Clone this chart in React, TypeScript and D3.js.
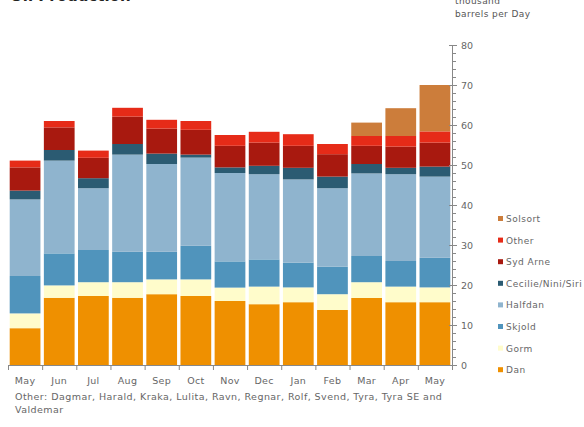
import React from 'react';
import * as d3 from 'd3';

const months = ['May', 'Jun', 'Jul', 'Aug', 'Sep', 'Oct', 'Nov', 'Dec', 'Jan', 'Feb', 'Mar', 'Apr', 'May'];
const fields = ['Dan', 'Gorm', 'Skjold', 'Halfdan', 'Cecilie/Nini/Siri', 'Syd Arne', 'Other', 'Solsort'];

const dan = [9.2, 16.8, 17.25, 16.8, 17.7, 17.25, 16, 15.2, 15.7, 13.75, 16.75, 15.7, 15.7];
const gorm = [3.7, 3.1, 3.45, 3.9, 3.7, 4.15, 3.35, 4.4, 3.7, 3.95, 3.95, 3.9, 3.7];
const skjold = [9.35, 8.0, 8.05, 7.6, 6.9, 8.4, 6.55, 6.8, 6.2, 6.9, 6.55, 6.4, 7.4];
const halfdan = [19.15, 23.2, 15.45, 24.3, 21.95, 22.05, 22.1, 21.3, 20.8, 19.6, 20.65, 21.7, 20.3];
const cecilie = [2.2, 2.65, 2.5, 2.65, 2.6, 0.75, 1.4, 2.1, 2.9, 2.9, 2.35, 1.6, 2.5];
const sydArne = [5.8, 5.65, 5.1, 6.85, 6.25, 6.2, 5.4, 5.8, 5.5, 5.6, 4.55, 5.3, 6.0];
const other = [1.7, 1.6, 1.8, 2.2, 2.2, 2.2, 2.7, 2.7, 2.9, 2.55, 2.45, 2.65, 2.8];
const solsort = [0, 0, 0, 0, 0, 0, 0, 0, 0, 0, 3.35, 6.95, 11.6];

const colors = ['#ef9000', '#fffccb', '#5094bc', '#8fb4ce', '#2b5b72', '#a8190f', '#e62b18', '#cc7d3b'];
const yTicks = [0, 10, 20, 30, 40, 50, 60, 70, 80];

const W = 584;
const H = 427;
const font = '"DejaVu Sans", Verdana, sans-serif';

export default function App() {
  const series = [dan, gorm, skjold, halfdan, cecilie, sydArne, other, solsort];
  const rows = months.map((_, i) => {
    const r: Record<string, number> = { idx: i };
    fields.forEach((f, k) => (r[f] = series[k][i]));
    return r;
  });
  const stacked = d3.stack<Record<string, number>>().keys(fields)(rows);

  const x = d3.scaleBand<number>()
    .domain(months.map((_, i) => i))
    .range([8, 452])
    .paddingInner(0.1)
    .paddingOuter(0.05);
  const y = d3.scaleLinear().domain([0, 80]).range([365, 45]);

  const step = x.step();
  const edge = (i: number) => (x(i) || 0) - step * 0.05;
  const minor = d3.range(0, 81, 2).filter(v => v % 10 !== 0);

  return (
    <svg width={W} height={H} style={{ position: 'absolute', left: 0, top: 0, background: '#fff' }} fontFamily={font}>
      <text x={10} y={1} fontSize={15} fontWeight="bold" fill="#222">Oil Production</text>
      <text x={455} y={4} fontSize={9} fill="#555" letterSpacing={0.4}>thousand</text>
      <text x={455} y={17} fontSize={9} fill="#555" letterSpacing={0.4}>barrels per Day</text>

      {stacked.map((s, k) => (
        <g key={fields[k]} fill={colors[k]}>
          {s.map((d, i) => (
            d[1] - d[0] > 0 ? (
              <rect key={i} x={x(i)} width={x.bandwidth()} y={y(d[1])} height={y(d[0]) - y(d[1])} />
            ) : null
          ))}
        </g>
      ))}

      {/* x axis */}
      <g stroke="#888" strokeWidth={1}>
        <line x1={8} x2={452} y1={365.5} y2={365.5} />
        {months.map((_, i) => (
          <line key={i} x1={edge(i) + 0.5} x2={edge(i) + 0.5} y1={365} y2={370} />
        ))}
        <line x1={452.5} x2={452.5} y1={365} y2={370} />
      </g>
      {months.map((m, i) => (
        <text key={i} x={(x(i) || 0) + x.bandwidth() / 2} y={384} fontSize={9.5} fill="#666" textAnchor="middle" letterSpacing={0.3}>{m}</text>
      ))}

      {/* y axis on the right */}
      <g stroke="#888" strokeWidth={1}>
        <line x1={452.5} x2={452.5} y1={y(80)} y2={y(0)} />
        {yTicks.map(t => (
          <line key={t} x1={449} x2={457} y1={Math.round(y(t)) + 0.5} y2={Math.round(y(t)) + 0.5} />
        ))}
        {minor.map(t => (
          <line key={t} x1={452} x2={456} y1={Math.round(y(t)) + 0.5} y2={Math.round(y(t)) + 0.5} />
        ))}
      </g>
      {yTicks.map(t => (
        <text key={t} x={461} y={y(t) + 3.5} fontSize={9.5} fill="#666">{t}</text>
      ))}

      {/* legend */}
      {fields.slice().reverse().map((f, j) => {
        const k = fields.length - 1 - j;
        const ly = 219 + j * 21.6;
        return (
          <g key={f}>
            <rect x={498} y={ly - 3} width={5} height={5} fill={colors[k]} />
            <text x={506} y={ly + 3} fontSize={9} fill="#666" letterSpacing={0.5}>{f}</text>
          </g>
        );
      })}

      <text x={15} y={400} fontSize={9.5} fill="#666" letterSpacing={0.45}>Other: Dagmar, Harald, Kraka, Lulita, Ravn, Regnar, Rolf, Svend, Tyra, Tyra SE and</text>
      <text x={15} y={413} fontSize={9.5} fill="#666" letterSpacing={0.45}>Valdemar</text>
    </svg>
  );
}
